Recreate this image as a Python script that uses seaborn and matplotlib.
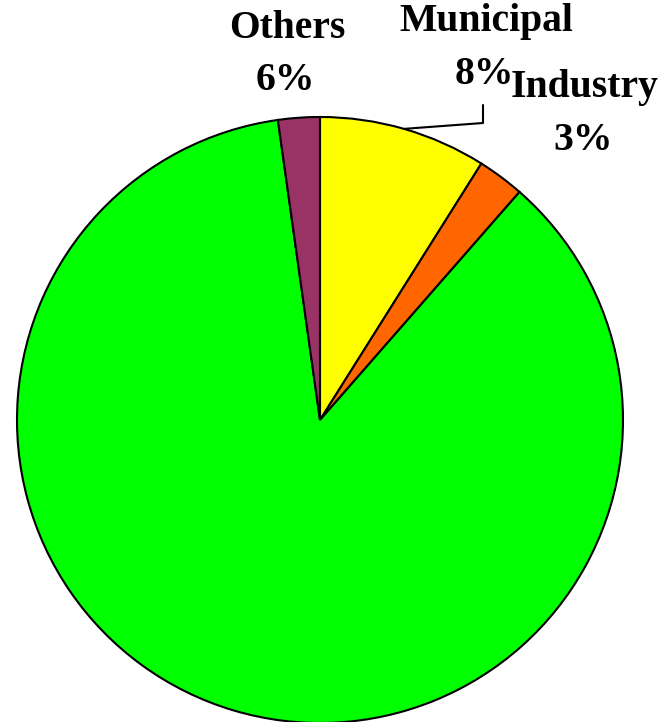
import numpy as np
import matplotlib
matplotlib.use("Agg")
import matplotlib.pyplot as plt
import seaborn as sns

sectors = ["Municipal", "Industry", "Agriculture", "Others"]
shares = [8.94, 2.5, 86.34, 2.22]
share_labels = ["8%", "3%", "", "6%"]
colors = ["#ffff00", "#ff6600", "#00ff00", "#993366"]

sns.set_style("white")
plt.rcParams["font.family"] = ["Liberation Serif", "DejaVu Serif"]

fig = plt.figure(figsize=(6.61, 7.22), dpi=100)
ax = fig.add_axes([0, 0, 1, 1])

cx, cy, r = 320, 722 - 420, 303
wedges, _ = ax.pie(shares, colors=colors, startangle=90, counterclock=False,
                   center=(cx, cy), radius=r,
                   wedgeprops=dict(edgecolor="black", linewidth=1.5))

ax.set_xlim(0, 661)
ax.set_ylim(0, 722)
ax.set_aspect("equal")
ax.axis("off")

# leader line for Municipal, from middle of its wedge
w = wedges[0]
mid = np.deg2rad((w.theta1 + w.theta2) / 2)
x0, y0 = cx + r * np.cos(mid), cy + r * np.sin(mid)
ax.plot([x0, 483, 483], [y0, 722 - 123, 722 - 105], color="black", lw=1.5)

fs = 28.5
label_pos = {"Others": (287, 28), "Municipal": (486, 22), "Industry": (585, 88)}
for name, lab in zip(sectors, share_labels):
    if name not in label_pos:
        continue
    px, py = label_pos[name]
    ax.text(px, 722 - py, name, ha="center", va="center", fontsize=fs,
            fontweight="bold", color="black")
    ax.text(px - 2, 722 - py - 52, lab, ha="center", va="center", fontsize=fs,
            fontweight="bold", color="black")

fig.savefig("out.png", dpi=100)
